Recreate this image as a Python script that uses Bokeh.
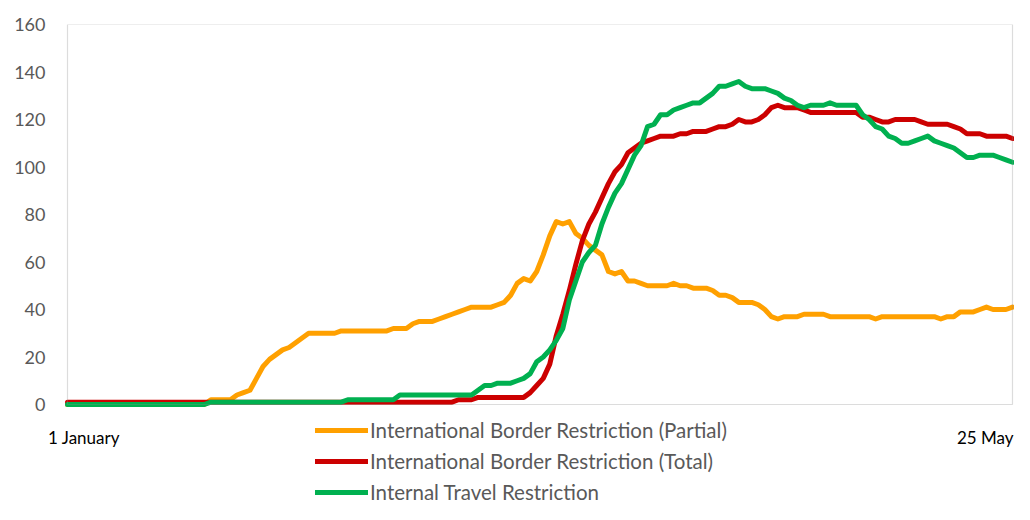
from bokeh.plotting import figure
from bokeh.models import (Range1d, Legend, LegendItem, Label, FixedTicker,
                          ColumnDataSource, BoxAnnotation)
from bokeh.embed import file_html
from bokeh.resources import INLINE

# Daily counts, 1 January .. 25 May (2020)
x_labels = ["1 January", "25 May"]
series_names = ["International Border Restriction (Partial)",
                "International Border Restriction (Total)",
                "Internal Travel Restriction"]
partial = [
    0, 0, 0, 0, 0, 0, 0, 0, 0, 0,
    0, 0, 0, 0, 0, 0, 0, 0, 0, 0,
    0, 0, 2, 2, 2, 2, 4, 5, 6, 11,
    16, 19, 21, 23, 24, 26, 28, 30, 30, 30,
    30, 30, 31, 31, 31, 31, 31, 31, 31, 31,
    32, 32, 32, 34, 35, 35, 35, 36, 37, 38,
    39, 40, 41, 41, 41, 41, 42, 43, 46, 51,
    53, 52, 56, 63, 71, 77, 76, 77, 72, 70,
    67, 65, 63, 56, 55, 56, 52, 52, 51, 50,
    50, 50, 50, 51, 50, 50, 49, 49, 49, 48,
    46, 46, 45, 43, 43, 43, 42, 40, 37, 36,
    37, 37, 37, 38, 38, 38, 38, 37, 37, 37,
    37, 37, 37, 37, 36, 37, 37, 37, 37, 37,
    37, 37, 37, 37, 36, 37, 37, 39, 39, 39,
    40, 41, 40, 40, 40, 41,
]
total = [
    1, 1, 1, 1, 1, 1, 1, 1, 1, 1,
    1, 1, 1, 1, 1, 1, 1, 1, 1, 1,
    1, 1, 1, 1, 1, 1, 1, 1, 1, 1,
    1, 1, 1, 1, 1, 1, 1, 1, 1, 1,
    1, 1, 1, 1, 1, 1, 1, 1, 1, 1,
    1, 1, 1, 1, 1, 1, 1, 1, 1, 1,
    2, 2, 2, 3, 3, 3, 3, 3, 3, 3,
    3, 5, 8, 11, 17, 29, 38, 48, 59, 69,
    76, 81, 87, 93, 98, 101, 106, 108, 110, 111,
    112, 113, 113, 113, 114, 114, 115, 115, 115, 116,
    117, 117, 118, 120, 119, 119, 120, 122, 125, 126,
    125, 125, 125, 124, 123, 123, 123, 123, 123, 123,
    123, 123, 121, 121, 120, 119, 119, 120, 120, 120,
    120, 119, 118, 118, 118, 118, 117, 116, 114, 114,
    114, 113, 113, 113, 113, 112,
]
internal = [
    0, 0, 0, 0, 0, 0, 0, 0, 0, 0,
    0, 0, 0, 0, 0, 0, 0, 0, 0, 0,
    0, 0, 1, 1, 1, 1, 1, 1, 1, 1,
    1, 1, 1, 1, 1, 1, 1, 1, 1, 1,
    1, 1, 1, 2, 2, 2, 2, 2, 2, 2,
    2, 4, 4, 4, 4, 4, 4, 4, 4, 4,
    4, 4, 4, 6, 8, 8, 9, 9, 9, 10,
    11, 13, 18, 20, 23, 27, 32, 44, 52, 60,
    64, 67, 76, 83, 89, 93, 99, 105, 109, 117,
    118, 122, 122, 124, 125, 126, 127, 127, 129, 131,
    134, 134, 135, 136, 134, 133, 133, 133, 132, 131,
    129, 128, 126, 125, 126, 126, 126, 127, 126, 126,
    126, 126, 122, 120, 117, 116, 113, 112, 110, 110,
    111, 112, 113, 111, 110, 109, 108, 106, 104, 104,
    105, 105, 105, 104, 103, 102,
]
y_ticks = [0, 20, 40, 60, 80, 100, 120, 140, 160]
colors = ["#FFA000", "#CC0000", "#00B050"]

days = list(range(len(partial)))
last_day = days[-1]
source = ColumnDataSource(dict(day=days, partial=partial, total=total, internal=internal))

# ---- layout (pixels) ----
W, H = 1014, 504
FRAME_L, FRAME_T = 46, 24          # drawing frame (extends to canvas bottom/right)
BOX_L, BOX_R, BOX_B = 67, 1012, 404  # visible plot box
px_day = (BOX_R - BOX_L) / last_day
px_val = (BOX_B - FRAME_T) / 160.0
x_start = -(BOX_L - FRAME_L) / px_day
x_end = last_day + (W - BOX_R) / px_day
y_start = -(H - BOX_B) / px_val

FONT = "Lato"
GREY = "#8C8C8C"

p = figure(width=W, height=H, output_backend="svg", toolbar_location=None,
           x_range=Range1d(x_start, x_end), y_range=Range1d(y_start, 160),
           x_axis_location=None,
           min_border_left=FRAME_L, min_border_right=0, min_border_top=FRAME_T,
           min_border_bottom=0)
p.background_fill_color = "white"
p.border_fill_color = "white"
p.outline_line_color = None
p.xgrid.visible = False
p.ygrid.visible = False

# y axis (labels only; the box supplies the line)
p.yaxis.ticker = FixedTicker(ticks=y_ticks)
p.yaxis.axis_line_color = None
p.yaxis.major_tick_line_color = None
p.yaxis.minor_tick_line_color = None
p.yaxis.major_tick_out = 0
p.yaxis.major_tick_in = 0
p.yaxis.major_label_standoff = 1
p.yaxis.major_label_text_font = FONT
p.yaxis.major_label_text_font_size = "18px"
p.yaxis.major_label_text_color = "#595959"

# plot box
p.add_layout(BoxAnnotation(left=0, right=last_day, bottom=0, top=160,
                           fill_color=None, fill_alpha=0,
                           line_color=GREY, line_width=1.2))

keys = ["partial", "total", "internal"]
renderers = []
for key, col in zip(keys, colors):
    r = p.line("day", key, source=source, line_color=col, line_width=5,
               line_join="round", line_cap="round")
    renderers.append(r)

label_y = -(437 - BOX_B) / px_val
p.add_layout(Label(x=(83.5 - BOX_L) / px_day, y=label_y, text=x_labels[0],
                   text_align="center", text_baseline="middle", text_font=FONT,
                   text_font_size="17px", text_color="#000000"))
p.add_layout(Label(x=last_day + (W - 1 - BOX_R) / px_day, y=label_y, text=x_labels[1],
                   text_align="right", text_baseline="middle", text_font=FONT,
                   text_font_size="17px", text_color="#000000"))

legend = Legend(items=[LegendItem(label=n, renderers=[r]) for n, r in zip(series_names, renderers)],
                location=(315 - FRAME_L, 0), orientation="vertical",
                label_text_font=FONT, label_text_font_size="20.5px",
                label_text_color="#595959", glyph_width=53, glyph_height=20,
                label_height=20, spacing=7, padding=0, margin=0,
                border_line_color=None, background_fill_alpha=0, label_standoff=2)
p.add_layout(legend, "center")

open("out.html", "w").write(file_html(p, INLINE))
